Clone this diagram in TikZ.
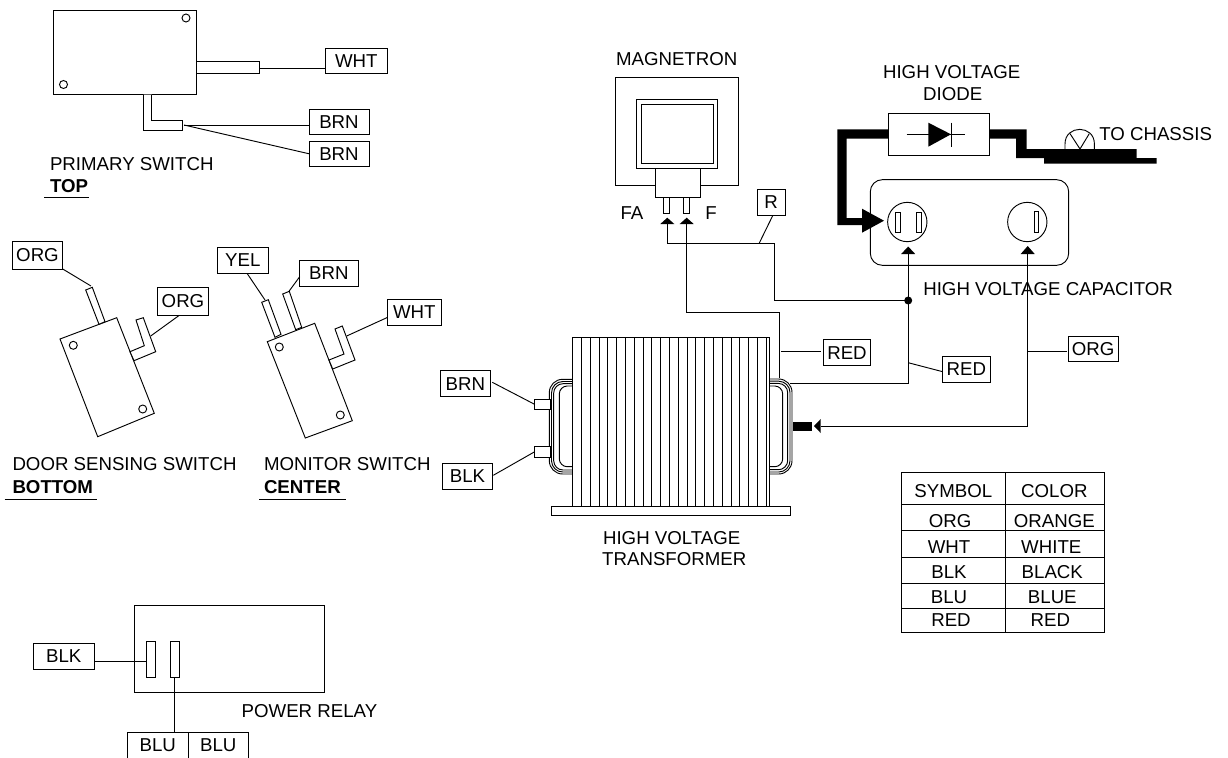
\documentclass[tikz,border=0pt]{standalone}
\usepackage{fontspec}
\setmainfont{Liberation Sans}
\usetikzlibrary{calc}
\tikzset{
  wire/.style={line width=0.7pt,black},
  part/.style={draw=black,line width=0.7pt,fill=white},
  hole/.style={draw=black,line width=0.7pt,fill=white,circle,inner sep=0pt,minimum size=6pt},
  tagbox/.style={draw=black,line width=0.7pt,fill=white,inner sep=0pt,outer sep=0pt,font=\fontsize{14}{16}\selectfont},
  lbl/.style={inner sep=0pt,outer sep=0pt,font=\fontsize{14}{16}\selectfont,anchor=center},
  lbll/.style={lbl,anchor=west},
  hd/.style={lbl,anchor=west,font=\fontsize{14}{16}\selectfont\bfseries},
  dot/.style={circle,fill=black,inner sep=0pt,minimum size=6pt}
}
% #1 name, #2 x1, #3 y1, #4 x2, #5 y2, #6 text
\newcommand{\tagb}[6]{%
  \pgfmathsetmacro{\tbw}{(#4-#2)*0.75}\pgfmathsetmacro{\tbh}{(#5-#3)*0.75}%
  \node[tagbox,minimum width=\tbw pt,minimum height=\tbh pt] (#1) at ({(#2+#4)/2},{(#3+#5)/2}) {#6};}
\begin{document}
\begin{tikzpicture}[x=0.75pt,y=-0.75pt]
\useasboundingbox (0,0) rectangle (1228,757);

%% ---------- PRIMARY SWITCH
\draw[part] (53,10) rectangle (196,94);
\node[hole] (ph1) at (186,18) {};
\node[hole] (ph2) at (63.5,84.5) {};
\draw[part] (196,61) rectangle (259,73);
\draw[part] (143.5,94.5) -- (143.5,130) -- (182.5,130) -- (182.5,120.5) -- (151.5,120.5) -- (151.5,94.5);
\tagb{pwht}{325.5}{48.5}{387}{73.5}{WHT}
\tagb{pbrna}{309}{109}{369}{134.5}{BRN}
\tagb{pbrnb}{309}{141}{369}{166.5}{BRN}
\coordinate (pstub) at (259,68);
\coordinate (plug) at (184,125);
\draw[wire] (pstub) -- (pstub -| pwht.west);
\draw[wire] (plug) -- (plug -| pbrna.west);
\draw[wire] (plug) -- (pbrnb.west);
\node[lbll] (ptxt) at (50,164) {PRIMARY SWITCH};
\node[hd] (ptop) at (50,186) {TOP};
\coordinate (pua) at (44,197.5); \coordinate (pub) at (89,197.5);
\draw[wire] (pua) -- (pub);

%% ---------- DOOR SENSING SWITCH
\draw[part] (60,339) -- (116.7,317.7) -- (154.3,413.3) -- (97.7,436.7) -- cycle;
\node[hole] (dh1) at (73.3,345.3) {};
\node[hole] (dh2) at (142.7,409) {};
\draw[part] (85.7,290) -- (92.3,287.3) -- (105,321.7) -- (99,324.3) -- cycle;
\draw[part] (130,351.7) -- (144.3,345.7) -- (136,320) -- (143.3,317.7) -- (155.7,351.7) -- (134,360.7) -- cycle;
\tagb{dorga}{12.3}{241}{62.7}{269}{ORG}
\tagb{dorgb}{157.7}{287.3}{208.3}{315.3}{ORG}
\coordinate (dsa) at (91,286);
\coordinate (dsb) at (150.7,336);
\coordinate (dorgbp) at (179.3,315.3);
\draw[wire] (dorga.south east) -- (dsa);
\draw[wire] (dorgbp) -- (dsb);
\node[lbll] (dtxt) at (12.5,464) {DOOR SENSING SWITCH};
\node[hd] (dbot) at (12.5,487) {BOTTOM};
\coordinate (dua) at (4.5,499.3); \coordinate (dub) at (97.3,499.3);
\draw[wire] (dua) -- (dub);

%% ---------- MONITOR SWITCH
\draw[part] (267.3,341.7) -- (314.7,323.3) -- (352.3,420.7) -- (305.3,438) -- cycle;
\node[hole] (mh1) at (279.3,347) {};
\node[hole] (mh2) at (340.3,415) {};
\draw[part] (261.7,302.3) -- (268.3,299.7) -- (281,334.3) -- (275,337.3) -- cycle;
\draw[part] (282.7,294) -- (289.3,291.3) -- (301.7,327.3) -- (295.7,329.7) -- cycle;
\draw[part] (329,360) -- (344,354) -- (335,329) -- (342.3,326) -- (355,360) -- (332.7,369) -- cycle;
\tagb{myel}{217.7}{247.3}{268}{273.7}{YEL}
\tagb{mbrn}{299.7}{260}{358}{286}{BRN}
\tagb{mwht}{387.7}{299}{441}{325}{WHT}
\coordinate (msa) at (265,300);
\coordinate (msb) at (288.7,291.7);
\coordinate (msc) at (346.7,336);
\coordinate (mya) at (247.3,273.7);
\coordinate (mba) at (299.7,276.7);
\coordinate (mwa) at (387.7,317.3);
\draw[wire] (mya) -- (msa);
\draw[wire] (mba) -- (msb);
\draw[wire] (mwa) -- (msc);
\node[lbll] (mtxt) at (264,464) {MONITOR SWITCH};
\node[hd] (mcen) at (264,487) {CENTER};
\coordinate (mua) at (259.3,499.3); \coordinate (mub) at (345.7,499.3);
\draw[wire] (mua) -- (mub);

%% ---------- POWER RELAY
\draw[part] (134.3,605.7) rectangle (324,692);
\draw[part] (146.7,641.7) rectangle (155.3,677.3);
\draw[part] (170.3,641.7) rectangle (179,677.3);
\tagb{rblk}{33.3}{643.3}{94.3}{669.3}{BLK}
\coordinate (rsa) at (147,661.5);
\coordinate (rsb) at (174.7,677.3);
\coordinate (rbt) at (174.7,732.7);
\draw[wire] (rsa -| rblk.east) -- (rsa);
\draw[wire] (rsb) -- (rbt);
\draw[wire] (127.3,758) -- (127.3,732.7) -- (248.3,732.7) -- (248.3,758);
\draw[wire] (188.3,732.7) -- (188.3,758);
\node[lbl] (rblua) at (157.8,745) {BLU};
\node[lbl] (rblub) at (218.3,745) {BLU};
\node[lbll] (rtxt) at (241.7,710.7) {POWER RELAY};

%% ---------- MAGNETRON
\node[lbl] (mgt) at (676.7,59) {MAGNETRON};
\draw[part] (615,77.3) rectangle (738,185);
\draw[part] (636.3,99.7) rectangle (717.7,168.3);
\draw[part] (641,104.3) rectangle (713,163.7);
\draw[part] (655,168.3) rectangle (700.3,197.3);
\draw[part] (663.3,197.3) rectangle (669.3,213.7);
\draw[part] (683.7,197.3) rectangle (689.3,213.7);
\node[lbl] (fa) at (632,213) {FA};
\node[lbl] (ff) at (711,213) {F};
\tagb{mr}{757}{189.3}{785}{215.7}{R}

%% ---------- CAPACITOR
\draw[part,rounded corners=9pt] (870.3,179.7) rectangle (1068.7,265.3);
\node[draw=black,line width=0.7pt,circle,inner sep=0pt,minimum size=29.5pt] (capa) at (907.3,222) {};
\node[draw=black,line width=0.7pt,circle,inner sep=0pt,minimum size=29.5pt] (capb) at (1027.3,222) {};
\draw[part] (895.7,212.7) rectangle (900,232.7);
\draw[part] (916.7,212.7) rectangle (921.3,232.7);
\draw[part] (1034.3,211.7) rectangle (1038.7,232.7);

%% ---------- DIODE
\node[lbl] (dia) at (951.7,71.7) {HIGH VOLTAGE};
\node[lbl] (dib) at (952.7,94) {DIODE};
\draw[part] (888.3,113.3) rectangle (989.7,155);
\fill[black] (888.3,129.3) -- (837.3,129.3) -- (837.3,225) -- (862,225) -- (862,232.7) -- (884,220.7) -- (862,208.7) -- (862,218) -- (846.6,218) -- (846.6,138.7) -- (888.3,138.7) -- cycle;
\draw[wire] (906.7,134.3) -- (965,134.3);
\fill[black] (928.3,122.7) -- (928.3,146.7) -- (951,134.3) -- cycle;
\draw[wire] (951,122.7) -- (951,146.7);

%% ---------- TO CHASSIS
\draw[wire] (1065,149) -- (1065,144) .. controls (1065,124.5) and (1094.4,124.5) .. (1094.4,144) -- (1094.4,149);
\draw[wire] (1070,133.6) -- (1080,149) -- (1089.3,133.6);
\fill[black] (989.7,129.3) -- (1026.7,129.3) -- (1026.7,149) -- (1136.7,149) -- (1136.7,158) -- (1156.7,158) -- (1156.7,163.7) -- (1044,163.7) -- (1044,158) -- (1016,158) -- (1016,138.7) -- (989.7,138.7) -- cycle;
\node[lbll] (chs) at (1099.3,134.3) {TO CHASSIS};

%% ---------- TRANSFORMER
\foreach \xa/\ya/\yb/\rr in {792/379/474/10pt,790/381.2/472/8.5pt,787.7/383.4/469.7/7pt,782.7/386/466.7/6pt}
  {\draw[wire,rounded corners=\rr] (769.3,\ya) -- (\xa,\ya) -- (\xa,\yb) -- (769.3,\yb);}
\foreach \xa/\ya/\yb/\rr in {549.3/379.3/474/10pt,551.5/381.5/472/8.5pt,553.7/383.7/470/7pt,559.3/386/466.7/6pt}
  {\draw[wire,rounded corners=\rr] (572.7,\ya) -- (\xa,\ya) -- (\xa,\yb) -- (572.7,\yb);}
\draw[part] (572.7,337.7) rectangle (769.3,506.7);
\foreach \i in {1,...,22} {\draw[wire] ({572.7+8.8*\i},337.7) -- ({572.7+8.8*\i},506.7);}
\draw[part] (551,506.7) rectangle (790.3,515.7);
\node[draw=black,line width=0.7pt,fill=white,inner sep=0pt,outer sep=0pt,minimum width=11.7pt,minimum height=7.7pt] (tta) at (542.2,404.2) {};
\node[draw=black,line width=0.7pt,fill=white,inner sep=0pt,outer sep=0pt,minimum width=11.7pt,minimum height=7.7pt] (ttb) at (542.2,451.9) {};
\tagb{tbrn}{440}{370.7}{490.7}{396.7}{BRN}
\tagb{tblk}{442.3}{463.3}{492.7}{489.3}{BLK}
\coordinate (tba) at (492.3,382.3);
\coordinate (tbb) at (493.3,475.3);
\draw[wire] (tba) -- (tta.west);
\draw[wire] (tbb) -- (ttb.west);
\node[lbl] (tra) at (671.7,537.7) {HIGH VOLTAGE};
\node[lbl] (trb) at (674.3,559) {TRANSFORMER};

%% ---------- WIRING
\coordinate (faB) at (667.3,224);
\coordinate (fB) at (686.7,224);
\coordinate (capaB) at (908.2,254);
\coordinate (capbB) at (1027.7,254);
\node[dot] (jn) at (908.2,300.5) {};
\coordinate (ja) at (774.7,300.5);
\coordinate (jb) at (774.7,243);
\coordinate (rj) at (759.3,243);
\coordinate (fa1) at (667.3,243);
\coordinate (f1) at (686.7,312.3);
\coordinate (f2) at (779.3,312.3);
\coordinate (f3) at (779.3,378);
\coordinate (red1a) at (781,351);
\coordinate (red1b) at (820.7,351);
\coordinate (j3) at (908.2,383.3);
\coordinate (j4) at (790,383.3);
\coordinate (red2) at (908.2,362.7);
\coordinate (red2b) at (942.7,371.7);
\coordinate (og1) at (1027.7,426);
\coordinate (og2) at (820.7,426);
\coordinate (og3) at (1027.7,351);
\coordinate (og4) at (1066.7,351);
\coordinate (mrb) at (772.7,215.7);
\node[lbll] (captxt) at (923.3,288.7) {HIGH VOLTAGE CAPACITOR};
\draw[wire] (faB) -- (fa1) -- (jb) -- (ja) -- (jn.center);
\draw[wire] (fB) -- (f1) -- (f2) -- (f3);
\draw[wire] (capaB) -- (jn.center) -- (j3) -- (j4);
\draw[wire] (capbB) -- (og1) -- (og2);
\draw[wire] (mrb) -- (rj);
\tagb{tr1}{823.3}{339.7}{870.7}{365.7}{RED}
\tagb{tr2}{942.7}{356.7}{990}{382.3}{RED}
\tagb{torg}{1068}{336}{1118.3}{361.7}{ORG}
\draw[wire] (red1a) -- (red1b);
\draw[wire] (red2) -- (red2b);
\draw[wire] (og3) -- (og4);
% arrowheads
\fill[black] (667.3,217.7) -- (660.3,224) -- (674.3,224) -- cycle;
\fill[black] (686.7,217.7) -- (679.7,224) -- (693.7,224) -- cycle;
\fill[black] (908.2,246.5) -- (901.2,254) -- (915.2,254) -- cycle;
\fill[black] (1027.7,246) -- (1020.7,254) -- (1034.7,254) -- cycle;
\fill[black] (814,426) -- (820.7,419) -- (820.7,433) -- cycle;
\fill[black] (792.7,421.7) rectangle (812.3,430.7);

%% ---------- TABLE
\draw[part] (901.3,472.3) rectangle (1104.3,632.7);
\draw[wire] (1005,472.3) -- (1005,632.7);
\foreach \y in {504.3,530.7,557.7,583.7,608.3} {\draw[wire] (901.3,\y) -- (1104.3,\y);}
\node[lbl] (s0) at (953.3,490.7) {SYMBOL};  \node[lbl] (c0) at (1054.3,490.7) {COLOR};
\node[lbl] (s1) at (950,521) {ORG};        \node[lbl] (c1) at (1054.3,521) {ORANGE};
\node[lbl] (s2) at (949,546.7) {WHT};      \node[lbl] (c2) at (1051.3,546.7) {WHITE};
\node[lbl] (s3) at (949,571.7) {BLK};      \node[lbl] (c3) at (1052.3,571.7) {BLACK};
\node[lbl] (s4) at (949,596.7) {BLU};      \node[lbl] (c4) at (1052.3,596.7) {BLUE};
\node[lbl] (s5) at (951,620) {RED};        \node[lbl] (c5) at (1050.3,620) {RED};
\end{tikzpicture}
\end{document}
